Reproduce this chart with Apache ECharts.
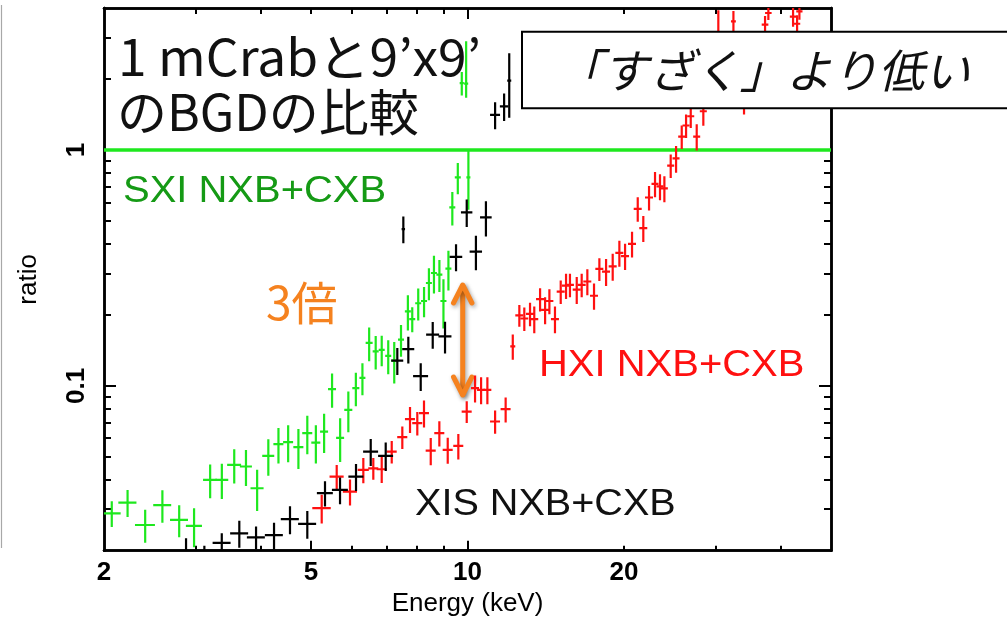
<!DOCTYPE html>
<html>
<head>
<meta charset="utf-8">
<script src="https://cdn.jsdelivr.net/npm/echarts@6/dist/echarts.min.js"></script>
<style>
  html, body { margin: 0; padding: 0; background: #fff; }
  #chart { width: 1007px; height: 622px; }
</style>
</head>
<body>
<div id="chart"></div>
<script>
// ---- Axis ranges and tick values ----
const energyRange = [2, 50];
const ratioRange = [0.02, 4];
const energyLabels = [2, 5, 10, 20];
const energyMajorBottom = [5, 10];
const energyMinorBottom = [3, 4, 6, 7, 8, 9, 20, 30, 40];
const energyMajorTop = [10];
const energyMinorTop = [3, 4, 5, 6, 7, 8, 9, 20, 30, 40];
const ratioLabels = [0.1, 1];
const ratioMajor = [0.1, 1];
const ratioMinor = [0.03, 0.04, 0.05, 0.06, 0.07, 0.08, 0.09, 0.2, 0.3, 0.4, 0.5, 0.6, 0.7, 0.8, 0.9, 2, 3];
const unityRatio = 1;

// ---- SXI NXB+CXB (green): energy keV, energy half-width, ratio, ratio error (symmetric or [low, high]) ----
const sxiEnergy = [2.07, 2.22, 2.40, 2.59, 2.79, 2.98, 3.20, 3.37, 3.56, 3.75, 3.94, 4.14, 4.33, 4.52, 4.73, 4.92, 5.11, 5.30, 5.49, 5.69, 5.90, 6.10, 6.28, 6.47, 6.66, 6.84, 7.04, 7.23, 7.45, 7.68, 7.83, 8.04, 8.25, 8.43, 8.62, 8.83, 8.99, 9.19, 9.35, 9.58, 9.75, 9.94, 10.04];
const sxiEnergyErr = [0.083, 0.089, 0.106, 0.103, 0.111, 0.106, 0.099, 0.097, 0.110, 0.100, 0.114, 0.110, 0.096, 0.100, 0.105, 0.109, 0.102, 0.094, 0.097, 0.101, 0.105, 0.095, 0.083, 0.100, 0.089, 0.091, 0.094, 0.096, 0.099, 0.102, 0.104, 0.107, 0.110, 0.112, 0.115, 0.117, 0.120, 0.122, 0.124, 0.127, 0.09, 0.09, 0.089];
const sxiRatio = [0.0288, 0.0320, 0.0257, 0.0312, 0.0270, 0.0255, 0.0399, 0.0399, 0.0462, 0.0455, 0.0368, 0.0505, 0.0566, 0.0577, 0.0550, 0.0630, 0.0575, 0.0640, 0.0968, 0.0602, 0.0791, 0.0978, 0.108, 0.152, 0.140, 0.142, 0.134, 0.128, 0.157, 0.207, 0.192, 0.224, 0.229, 0.273, 0.301, 0.296, 0.229, 0.314, 0.571, 0.765, 1.92, 1.91, 0.765];
const sxiRatioErr = [0.0036, 0.0042, 0.0041, 0.0049, 0.0042, 0.0048, 0.0065, 0.0068, 0.0077, 0.0079, 0.0073, 0.0089, 0.0097, 0.0103, 0.0106, 0.0117, 0.0106, 0.0121, 0.0160, 0.0127, 0.0155, 0.0159, 0.0167, 0.0248, 0.0228, 0.0209, 0.0219, 0.0256, 0.0243, 0.0353, 0.0234, 0.0347, 0.0337, 0.0423, 0.0548, 0.0458, 0.0541, 0.0602, 0.0930, 0.116, 0.219, [0.243, 0.984], [0.207, 0.235]];

// ---- XIS NXB+CXB (black) ----
const xisEnergy = [2.876, 3.119, 3.369, 3.641, 3.921, 4.246, 4.557, 4.920, 5.321, 5.687, 6.104, 6.515, 6.962, 7.329, 7.527, 7.695, 8.129, 8.573, 9.053, 9.505, 9.966, 10.38, 10.85, 11.30, 11.76, 12.03];
const xisEnergyErr = [0.10, 0.11, 0.134, 0.145, 0.156, 0.169, 0.182, 0.196, 0.188, 0.201, 0.203, 0.216, 0.231, 0.195, 0.057, 0.205, 0.27, 0.247, 0.261, 0.265, 0.252, 0.285, 0.279, 0.25, 0.219, 0.107];
const xisRatio = [0.0185, 0.0172, 0.0216, 0.0237, 0.0228, 0.0233, 0.0272, 0.0260, 0.0351, 0.0362, 0.0412, 0.0526, 0.0505, 0.128, 0.462, 0.143, 0.110, 0.165, 0.162, 0.352, 0.544, 0.371, 0.518, 1.41, 1.53, 1.97];
const xisRatioErr = [0.0041, 0.0038, 0.0021, 0.0031, 0.0025, 0.0030, 0.0037, 0.0035, 0.0043, 0.0047, 0.0054, 0.0069, 0.0070, 0.0167, 0.060, 0.0186, 0.0148, 0.0215, 0.0248, 0.046, 0.0727, 0.0617, 0.0886, 0.184, 0.204, 0.60];

// ---- HXI NXB+CXB (red) ----
const hxiEnergy = [5.244, 5.604, 5.944, 6.305, 6.590, 6.840, 7.150, 7.493, 7.753, 8.007, 8.248, 8.498, 8.828, 9.162, 9.602, 9.966, 10.34, 10.62, 10.92, 11.30, 11.84, 12.22, 12.58, 12.86, 13.19, 13.44, 13.79, 14.10, 14.37, 14.73, 15.11, 15.47, 15.74, 16.22, 16.58, 17.00, 17.51, 17.93, 18.47, 19.02, 19.59, 20.09, 20.72, 21.25, 21.78, 22.34, 22.94, 23.45, 23.91, 24.59, 25.18, 25.82, 26.32, 26.87, 27.59, 28.41, 29.14, 29.79, 30.36, 32.46, 34.02, 37.34, 37.89, 42.27, 43.03, 43.47];
const hxiEnergyErr = [0.214, 0.175, 0.186, 0.155, 0.147, 0.152, 0.159, 0.167, 0.172, 0.178, 0.183, 0.189, 0.196, 0.203, 0.213, 0.221, 0.183, 0.188, 0.193, 0.25, 0.262, 0.135, 0.223, 0.228, 0.234, 0.238, 0.244, 0.25, 0.255, 0.261, 0.268, 0.274, 0.279, 0.287, 0.294, 0.301, 0.31, 0.318, 0.327, 0.337, 0.347, 0.356, 0.367, 0.376, 0.386, 0.396, 0.356, 0.364, 0.371, 0.382, 0.391, 0.401, 0.409, 0.417, 0.428, 0.44, 0.45, 0.46, 0.47, 0.35, 0.5, 0.55, 0.55, 0.6, 0.6, 0.6];
const hxiRatio = [0.0303, 0.0412, 0.0356, 0.0440, 0.0447, 0.0443, 0.0526, 0.0606, 0.0722, 0.0695, 0.0766, 0.0531, 0.0630, 0.0535, 0.0556, 0.0778, 0.0978, 0.0962, 0.0962, 0.0706, 0.0796, 0.147, 0.199, 0.193, 0.202, 0.192, 0.233, 0.210, 0.229, 0.192, 0.251, 0.266, 0.268, 0.256, 0.268, 0.277, 0.241, 0.313, 0.305, 0.321, 0.366, 0.355, 0.400, 0.563, 0.466, 0.629, 0.719, 0.701, 0.687, 0.858, 0.921, 1.14, 1.27, 1.39, 1.14, 1.46, 1.99, 2.54, 3.11, 3.51, 1.77, 3.40, 3.81, 3.68, 3.43, 3.87];
const hxiRatioErr = [0.0042, 0.0050, 0.0045, 0.0054, 0.0047, 0.0056, 0.0058, 0.0066, 0.0091, 0.0079, 0.0100, 0.0070, 0.0077, 0.0068, 0.0069, 0.0083, 0.0128, 0.0126, 0.0126, 0.0080, 0.0097, 0.0179, 0.0211, 0.0220, 0.0230, 0.0249, 0.0266, 0.0275, 0.028, 0.0249, 0.0286, 0.0324, 0.0306, 0.0335, 0.0306, 0.0349, 0.0306, 0.0347, 0.040, 0.042, 0.0465, 0.0451, 0.050, 0.067, 0.0592, 0.075, 0.088, 0.089, 0.087, 0.098, 0.120, 0.130, 0.145, 0.151, 0.145, 0.192, 0.25, 0.33, 0.8, 0.37, 0.355, 0.3, 0.25, 0.35, 0.3, 0.3];

const COLORS = { sxi: '#1ee81e', xis: '#000000', hxi: '#ff1010', sxiText: '#159a15', orange: '#f5821f' };
const FONT = '"Liberation Sans", Arial, Helvetica, sans-serif';
const JFONT = '"Noto Sans CJK JP", "Noto Sans", sans-serif';

function rows(energy, energyErr, ratio, ratioErr) {
  return energy.map((e, i) => {
    const err = ratioErr[i];
    const lo = Array.isArray(err) ? err[0] : err;
    const hi = Array.isArray(err) ? err[1] : err;
    return [e, energyErr[i], ratio[i], lo, hi];
  });
}

// Error-bar cross: horizontal bar = energy bin, vertical bar = ratio error
function renderCross(params, api) {
  const e = api.value(0), de = api.value(1), r = api.value(2), lo = api.value(3), hi = api.value(4);
  const left = api.coord([e - de, r]);
  const right = api.coord([e + de, r]);
  const top = api.coord([e, r + hi]);
  const bottom = api.coord([e, Math.max(r - lo, 1e-4)]);
  const style = { stroke: api.visual('color'), lineWidth: 2.2 };
  return {
    type: 'group',
    children: [
      { type: 'line', shape: { x1: left[0], y1: left[1], x2: right[0], y2: right[1] }, style },
      { type: 'line', shape: { x1: top[0], y1: top[1], x2: bottom[0], y2: bottom[1] }, style }
    ]
  };
}

const fmt = v => String(+(+v).toPrecision(6));

function energyAxis(position, ticks, len, extra) {
  return Object.assign({
    type: 'log', logBase: 10, min: energyRange[0], max: energyRange[1], position,
    axisLine: { show: true, onZero: false, lineStyle: { color: '#000', width: 2.5 } },
    axisTick: { show: true, inside: true, length: len, customValues: ticks, lineStyle: { color: '#000', width: 2 } },
    axisLabel: { show: false },
    splitLine: { show: false }, minorTick: { show: false }, minorSplitLine: { show: false }
  }, extra || {});
}
function ratioAxis(position, ticks, len, extra) {
  return Object.assign({
    type: 'log', logBase: 10, min: ratioRange[0], max: ratioRange[1], position,
    axisLine: { show: true, onZero: false, lineStyle: { color: '#000', width: 2.5 } },
    axisTick: { show: true, inside: true, length: len, customValues: ticks, lineStyle: { color: '#000', width: 2 } },
    axisLabel: { show: false },
    splitLine: { show: false }, minorTick: { show: false }, minorSplitLine: { show: false }
  }, extra || {});
}

const chart = echarts.init(document.getElementById('chart'), null, { renderer: 'canvas' });

chart.setOption({
  animation: false,
  backgroundColor: '#fff',
  grid: { left: 104, top: 8, width: 727, height: 542.7, containLabel: false, outerBoundsMode: 'none' },
  xAxis: [
    energyAxis('bottom', energyMajorBottom, 10, {
      axisLabel: { show: true, customValues: energyLabels, formatter: fmt, fontSize: 26, fontWeight: 'bold', color: '#000', fontFamily: FONT, margin: 9 },
      name: 'Energy (keV)', nameLocation: 'middle', nameGap: 40,
      nameTextStyle: { fontSize: 26, color: '#000', fontFamily: FONT }
    }),
    energyAxis('bottom', energyMinorBottom, 5),
    energyAxis('top', energyMajorTop, 11),
    energyAxis('top', energyMinorTop, 6)
  ],
  yAxis: [
    ratioAxis('left', ratioMajor, 12, {
      axisLabel: { show: true, customValues: ratioLabels, formatter: fmt, rotate: 90, fontSize: 26, fontWeight: 'bold', color: '#000', fontFamily: FONT, margin: 14 },
      name: 'ratio', nameLocation: 'middle', nameGap: 62,
      nameTextStyle: { fontSize: 26, color: '#000', fontFamily: FONT }
    }),
    ratioAxis('left', ratioMinor, 7),
    ratioAxis('right', ratioMajor, 12),
    ratioAxis('right', ratioMinor, 7)
  ],
  series: [
    {
      name: 'unity', type: 'line', xAxisIndex: 0, yAxisIndex: 0, z: 1,
      data: [[energyRange[0], unityRatio], [energyRange[1], unityRatio]],
      symbol: 'none', lineStyle: { color: COLORS.sxi, width: 3.5 }, silent: true
    },
    {
      name: 'HXI NXB+CXB', type: 'custom', xAxisIndex: 0, yAxisIndex: 0, z: 2, clip: true,
      itemStyle: { color: COLORS.hxi }, encode: { x: 0, y: 2 },
      renderItem: renderCross, data: rows(hxiEnergy, hxiEnergyErr, hxiRatio, hxiRatioErr)
    },
    {
      name: 'SXI NXB+CXB', type: 'custom', xAxisIndex: 0, yAxisIndex: 0, z: 3, clip: true,
      itemStyle: { color: COLORS.sxi }, encode: { x: 0, y: 2 },
      renderItem: renderCross, data: rows(sxiEnergy, sxiEnergyErr, sxiRatio, sxiRatioErr)
    },
    {
      name: 'XIS NXB+CXB', type: 'custom', xAxisIndex: 0, yAxisIndex: 0, z: 4, clip: true,
      itemStyle: { color: COLORS.xis }, encode: { x: 0, y: 2 },
      renderItem: renderCross, data: rows(xisEnergy, xisEnergyErr, xisRatio, xisRatioErr)
    }
  ],
  graphic: {
    elements: [
      // slide edge line at the far left
      { type: 'line', z: 0, shape: { x1: 1.5, y1: 5, x2: 1.5, y2: 548 }, style: { stroke: '#a8a8a8', lineWidth: 1.2 } },
      // title
      { type: 'text', z: 1, x: 118, y: 57, scaleX: 1.03, style: { text: '1 mCrabと9’x9’', font: '50px ' + JFONT, fill: '#111', verticalAlign: 'middle' } },
      { type: 'text', z: 1, x: 117, y: 112, style: { text: 'のBGDの比較', font: '50px ' + JFONT, fill: '#111', verticalAlign: 'middle' } },
      // series labels
      { type: 'text', z: 1, x: 123, y: 192, scaleX: 1.08, style: { text: 'SXI NXB+CXB', font: '37px ' + FONT, fill: COLORS.sxiText, verticalAlign: 'middle' } },
      { type: 'text', z: 1, x: 539, y: 366, scaleX: 1.08, style: { text: 'HXI NXB+CXB', font: '37px ' + FONT, fill: COLORS.hxi, verticalAlign: 'middle' } },
      { type: 'text', z: 1, x: 415, y: 505, scaleX: 1.07, style: { text: 'XIS NXB+CXB', font: '37px ' + FONT, fill: '#111', verticalAlign: 'middle' } },
      // factor-of-three arrow
      { type: 'text', z: 1, x: 266, y: 303, style: { text: '3倍', font: '46px ' + JFONT, fill: COLORS.orange, verticalAlign: 'middle' } },
      { type: 'group', z: 5, children: [
        { type: 'line', shape: { x1: 462.7, y1: 286, x2: 462.7, y2: 394 },
          style: { stroke: COLORS.orange, lineWidth: 5, lineCap: 'round', shadowBlur: 4, shadowColor: 'rgba(0,0,0,0.35)', shadowOffsetX: 1.5, shadowOffsetY: 2 } },
        { type: 'polyline', shape: { points: [[453.5, 303], [462.7, 285], [471.9, 303]] },
          style: { stroke: COLORS.orange, fill: null, lineWidth: 5, lineCap: 'round', lineJoin: 'round', shadowBlur: 4, shadowColor: 'rgba(0,0,0,0.35)', shadowOffsetX: 1.5, shadowOffsetY: 2 } },
        { type: 'polyline', shape: { points: [[453.5, 377], [462.7, 395], [471.9, 377]] },
          style: { stroke: COLORS.orange, fill: null, lineWidth: 5, lineCap: 'round', lineJoin: 'round', shadowBlur: 4, shadowColor: 'rgba(0,0,0,0.35)', shadowOffsetX: 1.5, shadowOffsetY: 2 } }
      ] },
      // comparison callout
      { type: 'rect', z: 100, shape: { x: 522, y: 31.7, width: 495, height: 76.6 }, style: { fill: '#fff', stroke: '#000', lineWidth: 2 } },
      { type: 'text', z: 101, x: 763, y: 71, style: { text: '「すざく」より低い', font: 'italic 46px ' + JFONT, fill: '#111', align: 'center', verticalAlign: 'middle' } }
    ]
  }
});
</script>
</body>
</html>
